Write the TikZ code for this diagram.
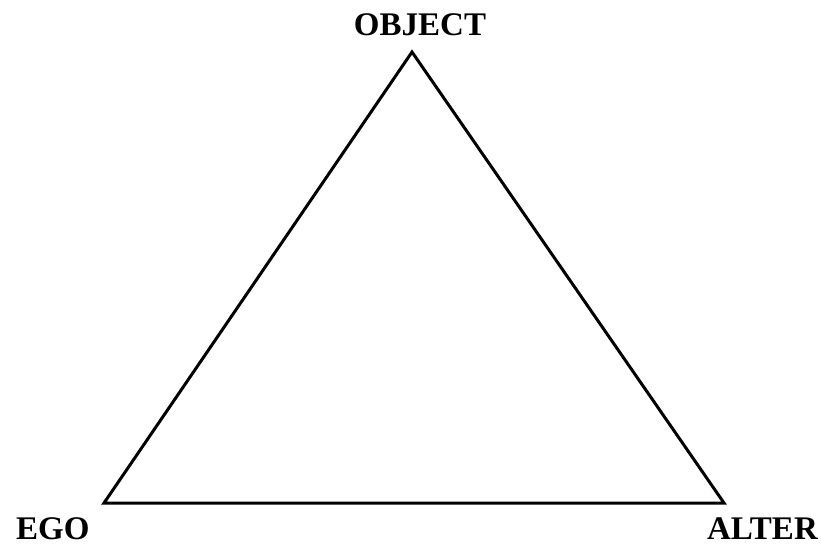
\documentclass[tikz,border=0pt]{standalone}
\usepackage{fontspec}
\setmainfont{Liberation Serif}
\usetikzlibrary{positioning}

\begin{document}
\begin{tikzpicture}[
  x=1pt, y=-1pt,
  lbl/.style={inner sep=0pt, font=\fontsize{33}{40}\selectfont\bfseries},
  side/.style={line width=3pt, line join=miter}
]
\useasboundingbox (0,0) rectangle (821,548);
\coordinate (top) at (412,52);
\coordinate (left) at (104,503);
\coordinate (right) at (724,503);
\node[lbl, anchor=base] (obj) at (420,36) {OBJECT};
\node[lbl, anchor=base west] (ego) at (16,539) {EGO};
\node[lbl, anchor=base east] (alter) at (818,539) {ALTER};
\draw[side] (top) -- (right) -- (left) -- cycle;
\end{tikzpicture}
\end{document}
